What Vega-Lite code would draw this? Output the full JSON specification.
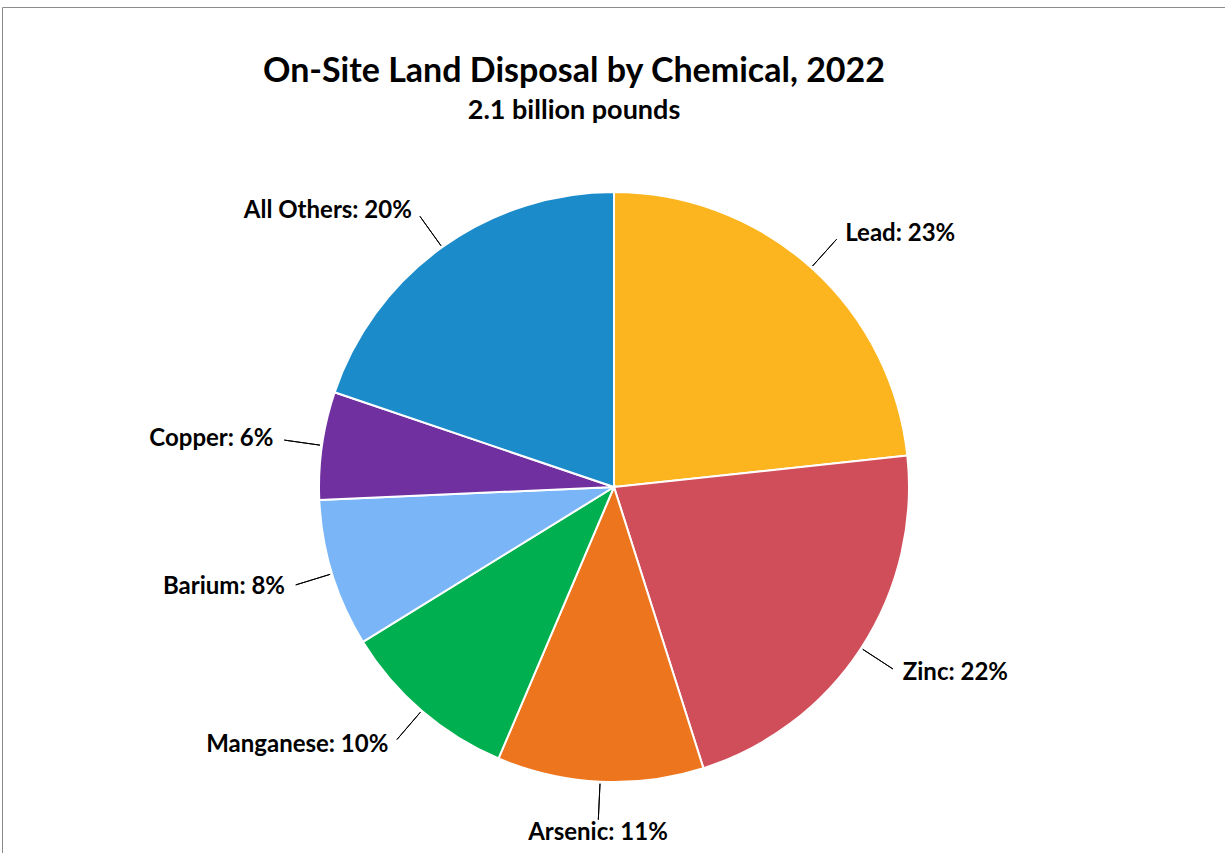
{
  "$schema": "https://vega.github.io/schema/vega-lite/v6.json",
  "width": 1224,
  "height": 960,
  "autosize": {"type": "none"},
  "padding": {"left": 2, "top": 7, "right": 0, "bottom": 0},
  "background": "white",
  "view": {"stroke": "#8c8c8c", "strokeWidth": 1},
  "title": {
    "text": "On-Site Land Disposal by Chemical, 2022",
    "subtitle": "2.1 billion pounds",
    "anchor": "middle",
    "dx": -40,
    "offset": -117,
    "font": "Lato",
    "fontSize": 34,
    "fontWeight": "bold",
    "color": "black",
    "subtitleFont": "Lato",
    "subtitleFontSize": 27,
    "subtitleFontWeight": "bold",
    "subtitleColor": "black",
    "subtitlePadding": 9
  },
  "data": {
    "values": [
      {"idx": 1, "chemical": "Lead", "value": 23.3, "label": "Lead: 23%"},
      {"idx": 2, "chemical": "Zinc", "value": 21.8, "label": "Zinc: 22%"},
      {"idx": 3, "chemical": "Arsenic", "value": 11.3, "label": "Arsenic: 11%"},
      {"idx": 4, "chemical": "Manganese", "value": 9.8, "label": "Manganese: 10%"},
      {"idx": 5, "chemical": "Barium", "value": 8.1, "label": "Barium: 8%"},
      {"idx": 6, "chemical": "Copper", "value": 5.9, "label": "Copper: 6%"},
      {"idx": 7, "chemical": "All Others", "value": 19.8, "label": "All Others: 20%"}
    ]
  },
  "encoding": {
    "theta": {"field": "value", "type": "quantitative", "stack": true},
    "order": {"field": "idx", "type": "quantitative"}
  },
  "layer": [
    {
      "mark": {"type": "arc", "outerRadius": 295, "stroke": "white", "strokeWidth": 2},
      "encoding": {
        "color": {
          "field": "chemical",
          "type": "nominal",
          "scale": {
            "domain": ["Lead", "Zinc", "Arsenic", "Manganese", "Barium", "Copper", "All Others"],
            "range": ["#FCB51F", "#D04E5A", "#EC751D", "#00AF50", "#7AB6F7", "#7030A0", "#1C8BCA"]
          },
          "legend": null
        }
      }
    },
    {
      "mark": {"type": "arc", "innerRadius": 297, "outerRadius": 333, "padAngle": 1.5, "fill": null, "stroke": "black", "strokeWidth": 1}
    },
    {
      "mark": {"type": "text", "radius": 340, "align": "left", "baseline": "middle", "dx": 4, "font": "Lato", "fontSize": 24, "fontWeight": "bold", "color": "black"},
      "encoding": {
        "text": {"condition": {"test": "indexof(['Lead','Zinc'], datum.chemical) >= 0", "field": "label"}, "value": ""}
      }
    },
    {
      "mark": {"type": "text", "radius": 340, "align": "right", "baseline": "middle", "dx": -4, "font": "Lato", "fontSize": 24, "fontWeight": "bold", "color": "black"},
      "encoding": {
        "text": {"condition": {"test": "indexof(['Manganese','Barium','Copper','All Others'], datum.chemical) >= 0", "field": "label"}, "value": ""}
      }
    },
    {
      "mark": {"type": "text", "radius": 340, "align": "center", "baseline": "top", "dy": -6, "font": "Lato", "fontSize": 24, "fontWeight": "bold", "color": "black"},
      "encoding": {
        "text": {"condition": {"test": "datum.chemical === 'Arsenic'", "field": "label"}, "value": ""}
      }
    }
  ]
}
